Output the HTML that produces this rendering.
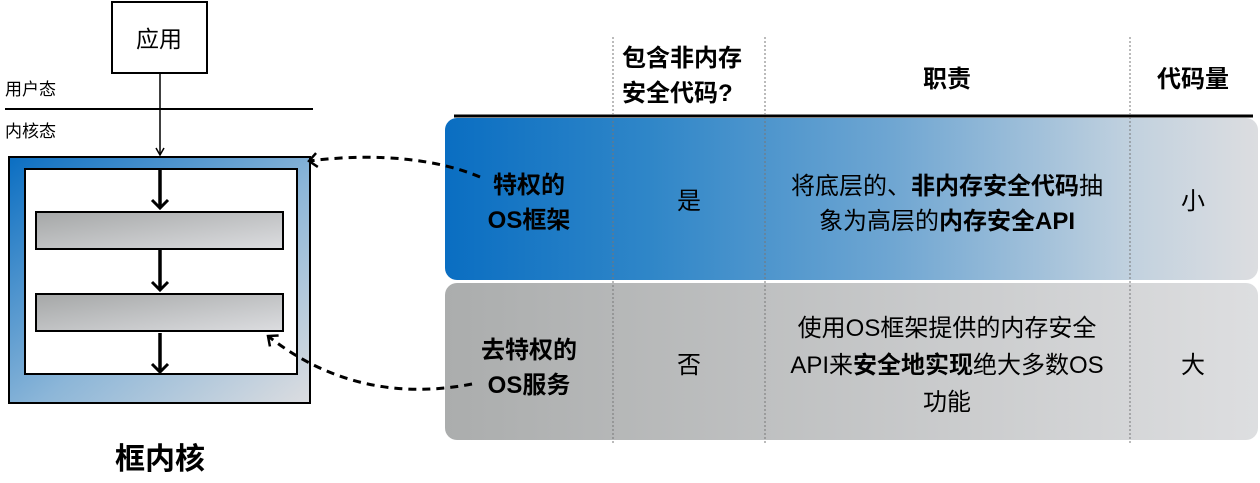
<!DOCTYPE html>
<html><head><meta charset="utf-8"><style>
html,body{margin:0;padding:0;background:#fff;width:1260px;height:483px;overflow:hidden}
svg text{font-family:"Liberation Sans","Noto Sans CJK SC",sans-serif;fill:#000}
.b{font-weight:bold}
</style></head><body>
<svg width="1260" height="483" viewBox="0 0 1260 483" xmlns="http://www.w3.org/2000/svg">
<defs>
<linearGradient id="gb" x1="0" y1="0" x2="1" y2="1"><stop offset="0" stop-color="#0a6ec2"/><stop offset="0.55" stop-color="#8cb6d8"/><stop offset="1" stop-color="#dcdde0"/></linearGradient>
<linearGradient id="gg" x1="0" y1="0" x2="1" y2="1"><stop offset="0" stop-color="#a5a7a7"/><stop offset="1" stop-color="#dcdde0"/></linearGradient>
<linearGradient id="rb" x1="0" y1="0" x2="1" y2="0"><stop offset="0" stop-color="#0a6ec2"/><stop offset="0.25" stop-color="#2f86c8"/><stop offset="0.55" stop-color="#6fa6d2"/><stop offset="0.85" stop-color="#c3d2df"/><stop offset="1" stop-color="#dcdde0"/></linearGradient>
<linearGradient id="rg" x1="0" y1="0" x2="1" y2="0"><stop offset="0" stop-color="#abadad"/><stop offset="1" stop-color="#dddee0"/></linearGradient>
<marker id="ah" markerWidth="20" markerHeight="20" refX="10" refY="10" orient="auto" markerUnits="userSpaceOnUse"><path d="M2,2 L10,10 L2,18" fill="none" stroke="#000" stroke-width="3"/></marker>
<marker id="ahd" markerWidth="16" markerHeight="16" refX="9" refY="8" orient="auto" markerUnits="userSpaceOnUse"><path d="M1,1 L9,8 L1,15" fill="none" stroke="#000" stroke-width="2.5"/></marker>
<marker id="ah2" markerWidth="10" markerHeight="10" refX="8" refY="5" orient="auto" markerUnits="userSpaceOnUse"><path d="M1,1 L8,5 L1,9" fill="none" stroke="#000" stroke-width="1.5"/></marker>
</defs>
<rect x="112" y="2" width="95" height="71" fill="#fff" stroke="#000" stroke-width="2"/>
<text x="159" y="47" font-size="23" text-anchor="middle">应用</text>
<text x="5" y="95" font-size="17">用户态</text>
<line x1="5" y1="109" x2="313" y2="109" stroke="#000" stroke-width="2"/>
<text x="5" y="137" font-size="17">内核态</text>
<line x1="160" y1="73" x2="160" y2="155" stroke="#000" stroke-width="1.5" marker-end="url(#ah2)"/>
<rect x="9" y="157" width="301" height="246" fill="url(#gb)" stroke="#000" stroke-width="2"/>
<rect x="25" y="169" width="272" height="205" fill="#fff" stroke="#000" stroke-width="2"/>
<rect x="36" y="212" width="247" height="37" fill="url(#gg)" stroke="#000" stroke-width="2"/>
<rect x="36" y="294" width="247" height="37" fill="url(#gg)" stroke="#000" stroke-width="2"/>
<g stroke="#000" stroke-width="3.5">
<line x1="160" y1="170" x2="160" y2="208" marker-end="url(#ah)"/>
<line x1="160" y1="250" x2="160" y2="290" marker-end="url(#ah)"/>
<line x1="160" y1="333" x2="160" y2="372" marker-end="url(#ah)"/>
</g>
<text x="160" y="469" font-size="30" class="b" text-anchor="middle">框内核</text>
<rect x="445" y="118" width="813" height="162" rx="12" fill="url(#rb)"/>
<rect x="445" y="283" width="813" height="157" rx="12" fill="url(#rg)"/>
<line x1="454" y1="116" x2="1253" y2="116" stroke="#000" stroke-width="3"/>
<g stroke="#777" stroke-width="1" stroke-dasharray="2,2">
<line x1="613" y1="37" x2="613" y2="445"/>
<line x1="765" y1="37" x2="765" y2="445"/>
<line x1="1130" y1="37" x2="1130" y2="445"/>
</g>
<g fill="none" stroke="#000" stroke-width="3" stroke-dasharray="8,6">
<path d="M480,177 C440,160 380,152 309,161" marker-end="url(#ahd)"/>
<path d="M472,384 C400,398 330,385 268,336" marker-end="url(#ahd)"/>
</g>
<text x="622" y="66" font-size="24" class="b">包含非内存</text>
<text x="622" y="101" font-size="24" class="b">安全代码?</text>
<text x="947" y="87" font-size="24" class="b" text-anchor="middle">职责</text>
<text x="1193" y="87" font-size="24" class="b" text-anchor="middle">代码量</text>
<text x="529" y="193" font-size="24" class="b" text-anchor="middle">特权的</text>
<text x="529" y="228" font-size="24" class="b" text-anchor="middle">OS框架</text>
<text x="689" y="209" font-size="24" text-anchor="middle">是</text>
<text x="947" y="194" font-size="24" text-anchor="middle">将底层的、<tspan class="b">非内存安全代码</tspan>抽</text>
<text x="947" y="229" font-size="24" text-anchor="middle">象为高层的<tspan class="b">内存安全API</tspan></text>
<text x="1193" y="209" font-size="24" text-anchor="middle">小</text>
<text x="529" y="358" font-size="24" class="b" text-anchor="middle">去特权的</text>
<text x="529" y="393" font-size="24" class="b" text-anchor="middle">OS服务</text>
<text x="689" y="373" font-size="24" text-anchor="middle">否</text>
<text x="947" y="336" font-size="24" text-anchor="middle">使用OS框架提供的内存安全</text>
<text x="947" y="373" font-size="24" text-anchor="middle">API来<tspan class="b">安全地实现</tspan>绝大多数OS</text>
<text x="947" y="410" font-size="24" text-anchor="middle">功能</text>
<text x="1193" y="373" font-size="24" text-anchor="middle">大</text>
</svg>
</body></html>
